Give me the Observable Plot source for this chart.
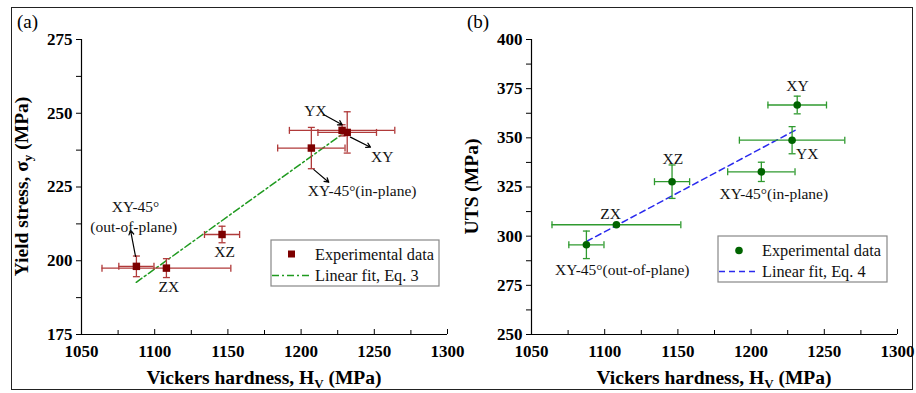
<!DOCTYPE html>
<html><head><meta charset="utf-8">
<script src="https://cdn.jsdelivr.net/npm/d3@7"></script>
<script src="https://cdn.jsdelivr.net/npm/@observablehq/plot@0.6"></script>
<style>
html,body{margin:0;padding:0;background:#fff;}
#wrap{position:relative;width:916px;height:393px;overflow:hidden;font-family:"Liberation Serif","Times New Roman",serif;background:#fff;}
#frame{position:absolute;left:11px;top:7px;width:902px;height:383px;border:1.5px solid #222;box-sizing:border-box;}
.panel{position:absolute;top:0;}
.panel svg{overflow:visible;font-family:"Liberation Serif","Times New Roman",serif !important;}
.panel svg text{font-family:"Liberation Serif","Times New Roman",serif !important;}
.panel [aria-label="y-axis tick label"] text,.panel [aria-label="x-axis tick label"] text{font-weight:bold;font-size:17px;fill:#000;}
</style></head><body><div id="wrap"><div id="frame"></div></div>
<script>
// ---- data ----
const orientations = ["XY-45° (out-of-plane)", "ZX", "XZ", "XY-45° (in-plane)", "YX", "XY"];
const hardness     = [1087.5, 1108, 1146, 1207, 1228, 1231.5];
const hardnessErr  = [12, 44, 12, 23, 36, 20];
const yieldStress  = [198.1, 197.5, 208.9, 238.2, 244.2, 243.5];
const yieldErr     = [3.5, 3.2, 2.8, 7, 1.9, 7];
const uts          = [295.6, 305.8, 327.7, 332.7, 348.8, 366.7];
const utsErr       = [7, 0.6, 8.5, 4.9, 6.9, 4.5];

const fitX      = [1087.4, 1230.6];
const fitYieldY = [192.7, 243.8];
const fitUtsX   = [1087.8, 1231.5];
const fitUtsY   = [297.4, 354.4];

const xTicks      = [1050, 1100, 1150, 1200, 1250, 1300];
const xMinorTicks = [1075, 1125, 1175, 1225, 1275];
const yTicksA     = [175, 200, 225, 250, 275];
const yMinorA     = [187.5, 212.5, 237.5, 262.5];
const yTicksB     = [250, 275, 300, 325, 350, 375, 400];
const yMinorB     = [262.5, 287.5, 312.5, 337.5, 362.5, 387.5];

// annotation labels (data coordinates)
const labelsA = [
  {t: "YX", x: 1209.8, y: 250.9}, {t: "XY", x: 1255.4, y: 235.1},
  {t: "XY-45°(in-plane)", x: 1241.7, y: 223.8}, {t: "XY-45°", x: 1086.9, y: 218.2},
  {t: "(out-of-plane)", x: 1085.7, y: 211.4}, {t: "XZ", x: 1147.7, y: 202.9},
  {t: "ZX", x: 1109.6, y: 191.0}
];
const arrowsA = [
  {x1: 1215.3, y1: 249.6, x2: 1228.1, y2: 246.1},
  {x1: 1233.7, y1: 241.9, x2: 1247.4, y2: 238.5},
  {x1: 1208.7, y1: 230.9, x2: 1218.9, y2: 226.6},
  {x1: 1086.9, y1: 201.5, x2: 1083.5, y2: 210.3}
];
const labelsB = [
  {t: "XY", x: 1231.7, y: 376.5}, {t: "YX", x: 1238.3, y: 342.0},
  {t: "XY-45°(in-plane)", x: 1215.5, y: 321.3}, {t: "XZ", x: 1146.5, y: 339.1},
  {t: "ZX", x: 1104, y: 311.1}, {t: "XY-45°(out-of-plane)", x: 1112, y: 283.0}
];

// ---- helpers ----
const FONT = '"Liberation Serif","Times New Roman",serif';
const vbar = {draw(ctx, size){const r = Math.sqrt(size/Math.PI); ctx.moveTo(0,-r); ctx.lineTo(0,r);}};
const hbar = {draw(ctx, size){const r = Math.sqrt(size/Math.PI); ctx.moveTo(-r,0); ctx.lineTo(r,0);}};

function makePanel(o){
  const pts = hardness.map((x,i)=>({x, ex: hardnessErr[i], y: o.ys[i], ey: o.errs[i]}));
  const fit = o.fitX.map((x,i)=>({x, y: o.fitY[i]}));
  const H = 393, mt = 39, mb = 59, innerH = H - mt - mb;
  const chart = Plot.plot({
    width: o.width, height: H, marginLeft: 81, marginRight: o.width - 81 - 366, marginTop: mt, marginBottom: mb,
    style: {fontFamily: FONT, fontSize: "16px", color: "#000", background: "transparent"},
    x: {domain: [1050, 1300]},
    y: {domain: o.yDomain},
    marks: [
      Plot.axisY({ticks: o.yTicks, tickSize: 5, tickPadding: 4, label: null, tickFormat: d => String(d)}),
      Plot.axisY({ticks: o.yMinor, tickSize: 5, tickFormat: () => "", label: null}),
      Plot.axisX({ticks: xTicks, tickSize: 0, tickPadding: 10, label: null, tickFormat: d => String(d)}),
      Plot.ruleX(xTicks, {stroke: "#000", insetTop: innerH - 5}),
      Plot.ruleX(xMinorTicks, {stroke: "#000", insetTop: innerH - 4}),
      Plot.ruleY([o.yDomain[0]], {stroke: "#000", strokeWidth: 1.2}),
      Plot.ruleX([1050], {stroke: "#000", strokeWidth: 1.2}),
      Plot.line(fit, {x: "x", y: "y", stroke: o.fitColor, strokeWidth: 1.5, strokeDasharray: o.dash}),
      Plot.ruleY(pts, {y: "y", x1: d => d.x - d.ex, x2: d => d.x + d.ex, stroke: o.errColor, strokeWidth: 1.3}),
      Plot.ruleX(pts, {x: "x", y1: d => d.y - d.ey, y2: d => d.y + d.ey, stroke: o.errColor, strokeWidth: 1.3}),
      Plot.dot(pts, {x: d => d.x - d.ex, y: "y", symbol: vbar, r: 3.5, stroke: o.errColor, strokeWidth: 1.3}),
      Plot.dot(pts, {x: d => d.x + d.ex, y: "y", symbol: vbar, r: 3.5, stroke: o.errColor, strokeWidth: 1.3}),
      Plot.dot(pts, {x: "x", y: d => d.y - d.ey, symbol: hbar, r: 3.5, stroke: o.errColor, strokeWidth: 1.3}),
      Plot.dot(pts, {x: "x", y: d => d.y + d.ey, symbol: hbar, r: 3.5, stroke: o.errColor, strokeWidth: 1.3}),
      Plot.dot(pts, {x: "x", y: "y", symbol: o.symbol, r: o.r, fill: o.markColor, stroke: "none"}),
      o.arrows ? Plot.arrow(o.arrows, {x1: "x1", y1: "y1", x2: "x2", y2: "y2", stroke: "#000", strokeWidth: 1.2, headLength: 6}) : null,
      Plot.text(o.labels, {x: "x", y: "y", text: "t", fontSize: 15.5, fill: "#111"})
    ]
  });
  const svg = d3.select(chart);
  svg.append("text").attr("x", 17).attr("y", 28).attr("text-anchor", "start").attr("font-size", 19).text(o.letter);
  const xt = svg.append("text").attr("x", 81 + 183).attr("y", 384).attr("text-anchor", "middle")
    .attr("font-size", 19.5).attr("font-weight", "bold").attr("fill", "#000");
  xt.append("tspan").text("Vickers hardness, H");
  xt.append("tspan").attr("font-size", 13).attr("dy", 4).text("V");
  xt.append("tspan").attr("dy", -4).text(" (MPa)");
  const yt = svg.append("text").attr("transform", `translate(${o.yTitleX},${mt + innerH/2}) rotate(-90)`)
    .attr("text-anchor", "middle").attr("font-size", 19.5).attr("font-weight", "bold").attr("fill", "#000");
  o.yTitle.forEach(p => yt.append("tspan").attr("font-size", p.sub ? 13 : null).attr("dy", p.dy || 0).text(p.t));
  const L = o.legend;
  const g = svg.append("g").attr("font-size", 16.3).attr("text-anchor", "start");
  g.append("rect").attr("x", L.x).attr("y", L.y).attr("width", L.w).attr("height", L.h).attr("fill", "#fff").attr("stroke", "#888").attr("stroke-width", 1.2);
  if (o.symbol === "square") g.append("rect").attr("x", L.x + 17).attr("y", L.y + 10.5).attr("width", 7).attr("height", 7).attr("fill", o.markColor);
  else g.append("circle").attr("cx", L.x + 21).attr("cy", L.y + 14.5).attr("r", 3.8).attr("fill", o.markColor);
  g.append("text").attr("x", L.x + 44).attr("y", L.y + 19.5).attr("fill", "#111").text("Experimental data");
  g.append("line").attr("x1", L.x + 1).attr("x2", L.x + 39).attr("y1", L.y + 35.5).attr("y2", L.y + 35.5)
    .attr("stroke", o.fitColor).attr("stroke-width", 1.5).attr("stroke-dasharray", o.dash);
  g.append("text").attr("x", L.x + 44).attr("y", L.y + 40.5).attr("fill", "#111").text(o.fitLabel);
  const div = document.createElement("div");
  div.className = "panel"; div.style.left = o.left + "px";
  div.appendChild(chart);
  document.getElementById("wrap").appendChild(div);
}

makePanel({
  left: 0, width: 458, letter: "(a)", ys: yieldStress, errs: yieldErr, yDomain: [175, 275],
  yTicks: yTicksA, yMinor: yMinorA, fitX: fitX, fitY: fitYieldY,
  fitColor: "#1f9a1f", dash: "7,3,2,3", errColor: "#b03a3a", markColor: "#7d0000", symbol: "square", r: 4.2,
  labels: labelsA, arrows: arrowsA, yTitleX: 28,
  yTitle: [{t: "Yield stress, σ"}, {t: "y", sub: true, dy: 4}, {t: " (MPa)", dy: -4}],
  legend: {x: 271, y: 240, w: 168, h: 46}, fitLabel: "Linear fit, Eq. 3"
});
makePanel({
  left: 450, width: 466, letter: "(b)", ys: uts, errs: utsErr, yDomain: [250, 400],
  yTicks: yTicksB, yMinor: yMinorB, fitX: fitUtsX, fitY: fitUtsY,
  fitColor: "#2a2aee", dash: "6,4", errColor: "#2f9a2f", markColor: "#006400", symbol: "circle", r: 3.8,
  labels: labelsB, arrows: null, yTitleX: 28,
  yTitle: [{t: "UTS (MPa)"}],
  legend: {x: 268, y: 236, w: 169, h: 46}, fitLabel: "Linear fit, Eq. 4"
});
</script></body></html>
